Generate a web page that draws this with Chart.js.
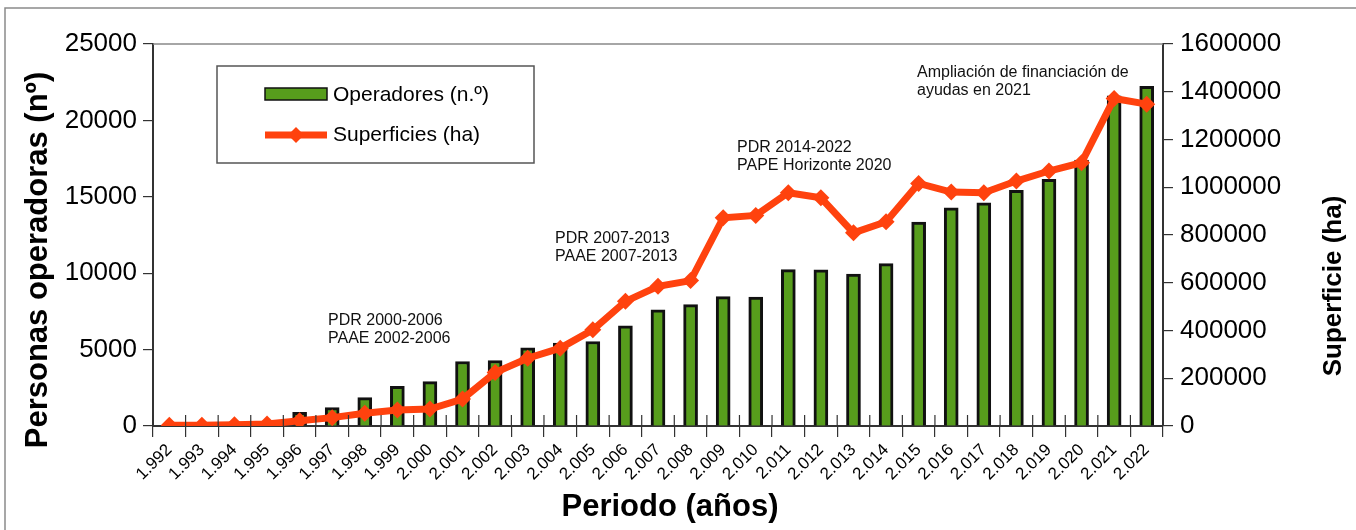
<!DOCTYPE html>
<html>
<head>
<meta charset="utf-8">
<script src="https://cdn.jsdelivr.net/npm/chart.js@4"></script>
<style>
  body { margin: 0; background: #fff; }
  #wrap { width: 1356px; height: 530px; }
</style>
</head>
<body>
<div id="wrap"><canvas id="operadores" width="1356" height="530"></canvas></div>
<script>
// Data
const years = ['1.992','1.993','1.994','1.995','1.996','1.997','1.998','1.999','2.000','2.001',
  '2.002','2.003','2.004','2.005','2.006','2.007','2.008','2.009','2.010','2.011',
  '2.012','2.013','2.014','2.015','2.016','2.017','2.018','2.019','2.020','2.021','2.022'];
const operadores = [50, 100, 200, 250, 900, 1200, 1860, 2600, 2900, 4220,
  4285, 5120, 5430, 5530, 6560, 7610, 7940, 8470, 8445, 10236,
  10220, 9950, 10630, 13340, 14285, 14610, 15420, 16140, 17410, 21610, 22225];
const superficies = [3000, 3000, 5000, 8000, 22000, 35000, 53000, 67000, 71000, 113000,
  224000, 284000, 326000, 403000, 522000, 585000, 609000, 872000, 882000, 977000,
  956000, 809000, 855000, 1016000, 980000, 977000, 1026000, 1068000, 1103000, 1372000, 1348000];
const leftTicks = [0, 25000, 5000];
const rightTicks = [0, 1600000, 200000];
const notes = [
  ['PDR 2000-2006', 'PAAE 2002-2006'],
  ['PDR 2007-2013', 'PAAE 2007-2013'],
  ['PDR 2014-2022', 'PAPE Horizonte 2020'],
  ['Ampliación de financiación de', 'ayudas en 2021']
];

const GREEN = '#579d1c';
const ORANGE = '#ff420e';
const FONT = '"Liberation Sans", Arial, sans-serif';

// extras drawn on top: frame, plot border, inner ticks, titles, legend, notes
const extras = {
  id: 'extras',
  afterDraw(chart) {
    const ctx = chart.ctx;
    const a = chart.chartArea;
    ctx.save();

    // outer frame
    ctx.strokeStyle = '#8a8a8a';
    ctx.lineWidth = 1.5;
    ctx.beginPath();
    ctx.moveTo(5, 530); ctx.lineTo(5, 8); ctx.lineTo(1356, 8);
    ctx.stroke();

    // top border of plot
    ctx.strokeStyle = '#888';
    ctx.beginPath();
    ctx.moveTo(a.left, a.top); ctx.lineTo(a.right, a.top);
    ctx.stroke();

    // inner x ticks
    ctx.strokeStyle = '#333';
    ctx.lineWidth = 1.2;
    const n = years.length;
    for (let i = 0; i <= n; i++) {
      const x = a.left + (a.right - a.left) * i / n;
      ctx.beginPath();
      ctx.moveTo(x, a.bottom); ctx.lineTo(x, a.bottom - 11);
      ctx.stroke();
    }

    // axis titles
    ctx.fillStyle = '#000';
    ctx.textAlign = 'center';
    ctx.textBaseline = 'middle';
    ctx.font = 'bold 31px ' + FONT;
    ctx.save();
    ctx.translate(38, 260);
    ctx.rotate(-Math.PI / 2);
    ctx.fillText('Personas operadoras (nº)', 0, 0);
    ctx.restore();
    ctx.font = 'bold 26px ' + FONT;
    ctx.save();
    ctx.translate(1334, 286);
    ctx.rotate(-Math.PI / 2);
    ctx.fillText('Superficie (ha)', 0, 0);
    ctx.restore();
    ctx.font = 'bold 31px ' + FONT;
    ctx.fillText('Periodo (años)', 670, 507);

    // legend
    ctx.strokeStyle = '#555';
    ctx.lineWidth = 1.5;
    ctx.fillStyle = '#fff';
    ctx.fillRect(217, 66, 317, 97);
    ctx.strokeRect(217, 66, 317, 97);
    ctx.fillStyle = GREEN;
    ctx.fillRect(265, 88, 62, 12);
    ctx.strokeStyle = '#111';
    ctx.strokeRect(265, 88, 62, 12);
    ctx.strokeStyle = ORANGE;
    ctx.lineWidth = 7;
    ctx.beginPath();
    ctx.moveTo(265, 135); ctx.lineTo(327, 135);
    ctx.stroke();
    ctx.fillStyle = ORANGE;
    ctx.beginPath();
    ctx.moveTo(296, 127); ctx.lineTo(304, 135); ctx.lineTo(296, 143); ctx.lineTo(288, 135);
    ctx.closePath();
    ctx.fill();
    ctx.fillStyle = '#000';
    ctx.textAlign = 'left';
    ctx.font = '21px ' + FONT;
    ctx.fillText('Operadores (n.º)', 333, 95);
    ctx.fillText('Superficies (ha)', 333, 135);

    // period notes
    const spots = [[328, 321], [555, 239], [737, 148], [917, 73]];
    ctx.font = '16px ' + FONT;
    ctx.fillStyle = '#111';
    notes.forEach((lines, k) => {
      lines.forEach((t, j) => ctx.fillText(t, spots[k][0], spots[k][1] + j * 18));
    });
    ctx.restore();
  }
};

new Chart('operadores', {
  type: 'bar',
  data: {
    labels: years,
    datasets: [{
      type: 'line',
      label: 'Superficies (ha)',
      data: superficies,
      yAxisID: 'y1',
      borderColor: ORANGE,
      backgroundColor: ORANGE,
      borderWidth: 7,
      pointStyle: 'rectRot',
      pointRadius: 8.5,
      pointBorderWidth: 0,
      tension: 0,
      order: 1
    }, {
      label: 'Operadores (n.º)',
      data: operadores,
      yAxisID: 'y',
      backgroundColor: GREEN,
      borderColor: '#111',
      borderWidth: 3,
      barThickness: 14,
      order: 2
    }]
  },
  options: {
    responsive: false,
    animation: false,
    devicePixelRatio: 1,
    layout: { padding: { top: 44, left: 0, right: 0, bottom: 0 } },
    plugins: {
      legend: { display: false },
      tooltip: { enabled: false }
    },
    scales: {
      x: {
        offset: true,
        grid: { offset: true, drawOnChartArea: false, tickLength: 11, color: '#333', lineWidth: 1.2 },
        border: { color: '#333', width: 2 },
        ticks: {
          color: '#000',
          autoSkip: false,
          maxRotation: 45,
          minRotation: 45,
          padding: 3,
          font: { family: FONT, size: 17 }
        },
        afterFit: s => { s.height = 104; }
      },
      y: {
        position: 'left',
        min: leftTicks[0],
        max: leftTicks[1],
        ticks: {
          stepSize: leftTicks[2], color: '#000', padding: 6,
          font: { family: FONT, size: 26 },
          callback: v => String(v)
        },
        grid: { drawOnChartArea: false, tickLength: 10, color: '#333', lineWidth: 1.2 },
        border: { color: '#333', width: 2 },
        afterFit: s => { s.width = 153; }
      },
      y1: {
        position: 'right',
        min: rightTicks[0],
        max: rightTicks[1],
        ticks: {
          stepSize: rightTicks[2], color: '#000', padding: 7,
          font: { family: FONT, size: 26 },
          callback: v => String(v)
        },
        grid: { drawOnChartArea: false, tickLength: 10, color: '#333', lineWidth: 1.2 },
        border: { color: '#333', width: 2 },
        afterFit: s => { s.width = 193; }
      }
    }
  },
  plugins: [extras]
});
</script>
</body>
</html>
